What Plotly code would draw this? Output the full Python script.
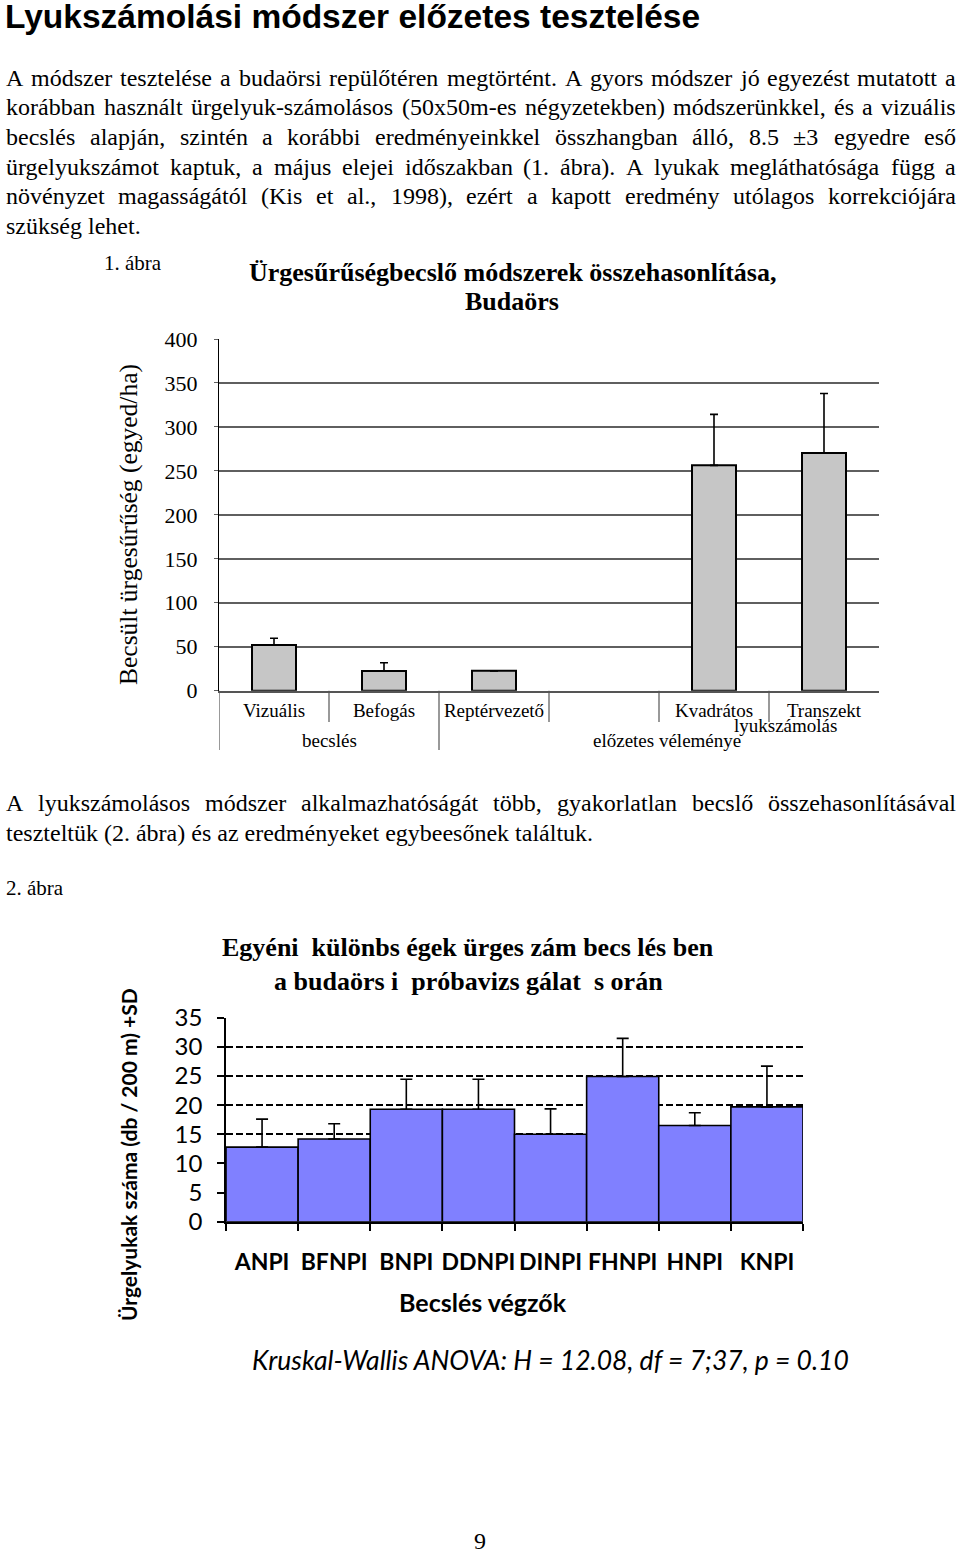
import unicodedata
import plotly.graph_objects as go

W, H = 960, 1553
SERIF = "Liberation Serif"
SANS = "Liberation Sans"
CAL = "Lato"

# ---- page text ----
heading = "Lyukszámolási módszer előzetes tesztelése"
para1 = [
    "A módszer tesztelése a budaörsi repülőtéren megtörtént. A gyors módszer jó egyezést mutatott a",
    "korábban használt ürgelyuk-számolásos (50x50m-es négyzetekben) módszerünkkel, és a vizuális",
    "becslés alapján, szintén a korábbi eredményeinkkel összhangban álló, 8.5 ±3 egyedre eső",
    "ürgelyukszámot kaptuk, a május elejei időszakban (1. ábra). A lyukak megláthatósága függ a",
    "növényzet magasságától (Kis et al., 1998), ezért a kapott eredmény utólagos korrekciójára",
    "szükség lehet.",
]
para2 = [
    "A lyukszámolásos módszer alkalmazhatóságát több, gyakorlatlan becslő összehasonlításával",
    "teszteltük (2. ábra) és az eredményeket egybeesőnek találtuk.",
]

# ---- 1. ábra ----
f1_title = ["Ürgesűrűségbecslő módszerek összehasonlítása,", "Budaörs"]
f1_cats = ["Vizuális", "Befogás", "Reptérvezető", " ", "Kvadrátos", "Transzekt"]
f1_vals = [52, 22.4, 22.6, None, 256.3, 270.3]
f1_sd = [7.6, 9.4, 0, None, 58, 67.7]
f1_ytitle = "Becsült ürgesűrűség (egyed/ha)"

# ---- 2. ábra ----
f2_title = ["Egyéni  különbs égek ürges zám becs lés ben", "a budaörs i  próbavizs gálat  s orán"]
f2_cats = ["ANPI", "BFNPI", "BNPI", "DDNPI", "DINPI", "FHNPI", "HNPI", "KNPI"]
f2_vals = [12.8, 14.2, 19.3, 19.3, 15.0, 24.9, 16.5, 19.7]
f2_sd = [4.8, 2.6, 5.15, 5.15, 4.35, 6.55, 2.2, 7.0]
f2_ytitle = "Ürgelyukak száma (db / 200 m) +SD"
f2_xtitle = "Becslés végzők"
f2_note = "Kruskal-Wallis ANOVA: H = 12.08, df = 7;37, p = 0.10"

# Times widths (1/1000 em), Liberation Serif has the same metrics
TIMES = {" ": 250, "(": 333, ")": 333, ",": 250, "-": 333, ".": 250, "/": 278,
         ":": 278, ";": 278, "±": 564}
TIMES.update({d: 500 for d in "0123456789"})
TIMES.update(dict(zip("abcdefghijklmnopqrstuvwxyz",
                      [444, 500, 444, 500, 444, 333, 500, 500, 278, 278, 500, 278, 778,
                       500, 500, 500, 500, 333, 389, 278, 500, 500, 722, 500, 500, 444])))
TIMES.update(dict(zip("ABCDEFGHIJKLMNOPQRSTUVWXYZ",
                      [722, 667, 667, 722, 611, 556, 722, 722, 333, 389, 722, 611, 889,
                       722, 722, 556, 722, 667, 556, 611, 722, 722, 944, 722, 722, 611])))


def tw(s, size):
    tot = 0
    for ch in s:
        base = unicodedata.normalize("NFD", ch)[0]
        tot += TIMES.get(base, 500)
    return tot * size / 1000


ann = []


def text(s, px, py, size, family=SERIF, anchor="left", angle=0):
    ann.append(dict(text=s, x=px / W, y=1 - py / H, xref="paper", yref="paper",
                    xanchor=anchor, yanchor="middle", showarrow=False, textangle=angle,
                    font=dict(family=family, size=size, color="black")))


BODY = 24
LEFT, RIGHT = 5, 955


def justified(line, py):
    words = line.split(" ")
    widths = [tw(w, BODY) for w in words]
    gap = (RIGHT - LEFT - sum(widths)) / (len(words) - 1)
    x = LEFT
    for w, wd in zip(words, widths):
        text(w, x - 1, py, BODY)
        x += wd + gap


text("<b>" + heading + "</b>", 3, 16.5, 33.5, family=SANS)

ys1 = [78, 107.5, 137, 167, 196.5, 226]
for i, (line, py) in enumerate(zip(para1, ys1)):
    if i < len(para1) - 1:
        justified(line, py)
    else:
        text(line, LEFT - 1, py, BODY)

justified(para2[0], 803)
text(para2[1], LEFT - 1, 833, BODY)

text("1. ábra", 102, 263, 21)
text("2. ábra", 4, 888, 21)

text("<b>" + f1_title[0] + "</b>", 512, 273, 26, anchor="center")
text("<b>" + f1_title[1] + "</b>", 512, 301, 26, anchor="center")
text(f1_ytitle, 128, 525, 25.5, anchor="center", angle=-90)

text("<b>" + f2_title[0] + "</b>", 468, 947, 26, anchor="center")
text("<b>" + f2_title[1] + "</b>", 468, 982, 26, anchor="center")
text("<b>" + f2_ytitle + "</b>", 128, 1155, 21, family=CAL, anchor="center", angle=-90)
text("<b>" + f2_xtitle + "</b>", 483, 1302, 25, family=CAL, anchor="center")
text("<i>" + f2_note + "</i>", 550, 1360, 26.5, family=CAL, anchor="center")
text("9", 480, 1541, 24, anchor="center")

# group labels under the first chart (category index positions)
for lab, xi, py in [("lyukszámolás", 4.65, 725), ("becslés", 0.5, 740),
                    ("előzetes véleménye", 3.57, 740)]:
    ann.append(dict(text=lab, x=xi, y=1 - py / H, xref="x", yref="paper",
                    xanchor="center", yanchor="middle", showarrow=False,
                    font=dict(family=SERIF, size=19, color="black")))

shapes = []
for xi, depth in [(-0.5, 750), (0.5, 722), (1.5, 750), (2.5, 722), (3.5, 722), (4.5, 722)]:
    shapes.append(dict(type="line", xref="x", yref="paper", x0=xi, x1=xi,
                       y0=1 - 690.7 / H, y1=1 - depth / H,
                       line=dict(color="#555555", width=1.2)))

fig = go.Figure()
fig.add_trace(go.Bar(
    x=f1_cats, y=f1_vals, width=0.4, xaxis="x", yaxis="y",
    marker=dict(color="#c6c6c6", line=dict(color="black", width=2)),
    error_y=dict(type="data", symmetric=False, array=f1_sd, arrayminus=[0] * len(f1_sd),
                 color="black", thickness=1.6, width=4),
    showlegend=False))
fig.add_trace(go.Bar(
    x=f2_cats, y=f2_vals, width=1, xaxis="x2", yaxis="y2",
    marker=dict(color="#8080ff", line=dict(color="black", width=1.6)),
    error_y=dict(type="data", symmetric=False, array=f2_sd, arrayminus=[0] * len(f2_sd),
                 color="black", thickness=1.6, width=6),
    showlegend=False))

fig.update_layout(
    width=W, height=H, autosize=False,
    margin=dict(l=0, r=0, t=0, b=0),
    paper_bgcolor="white", plot_bgcolor="white",
    font=dict(family=SERIF, color="black"),
    annotations=ann, shapes=shapes,
    xaxis=dict(domain=[219 / W, 879 / W], range=[-0.5, 5.5], type="category",
               categoryarray=f1_cats, categoryorder="array",
               showgrid=False, zeroline=False, showline=True, linecolor="#555555",
               linewidth=1.5, ticks="", ticklabelstandoff=2, automargin=False,
               tickfont=dict(family=SERIF, size=19, color="black"), anchor="y"),
    yaxis=dict(domain=[1 - 690.7 / H, 1 - 339 / H], range=[0, 400], dtick=50,
               showgrid=True, gridcolor="#5f5f5f", gridwidth=1.5, zeroline=False,
               showline=True, linecolor="black", linewidth=1.3,
               ticks="outside", ticklen=4, tickcolor="#5f5f5f", ticklabelstandoff=12,
               automargin=False, tickfont=dict(family=SERIF, size=22, color="black"),
               anchor="x"),
    xaxis2=dict(domain=[226 / W, 803 / W], range=[-0.5, 7.5], type="category",
                showgrid=False, zeroline=False, showline=True, linecolor="black",
                linewidth=1.6, ticks="outside", tickson="boundaries", ticklen=7,
                tickcolor="black", tickwidth=1.5, ticklabelstandoff=19, tickangle=0,
                automargin=False,
                tickfont=dict(family=CAL, size=23, color="black", weight="bold"),
                anchor="y2"),
    yaxis2=dict(domain=[1 - 1221.7 / H, 1 - 1017.7 / H], range=[0, 35], dtick=5,
                showgrid=True, gridcolor="black", gridwidth=1.8, griddash="7px,3px",
                zeroline=False, showline=True, linecolor="black", linewidth=1.6,
                ticks="outside", ticklen=7, tickcolor="black", tickwidth=1.5,
                ticklabelstandoff=10, automargin=False,
                tickfont=dict(family=CAL, size=24, color="black"), anchor="x2"),
)

# the page is the figure: drop the browser's default body margin, no toolbar
fig.write_html("out.html", config={"displayModeBar": False},
               post_script="document.body.style.margin='0';")
